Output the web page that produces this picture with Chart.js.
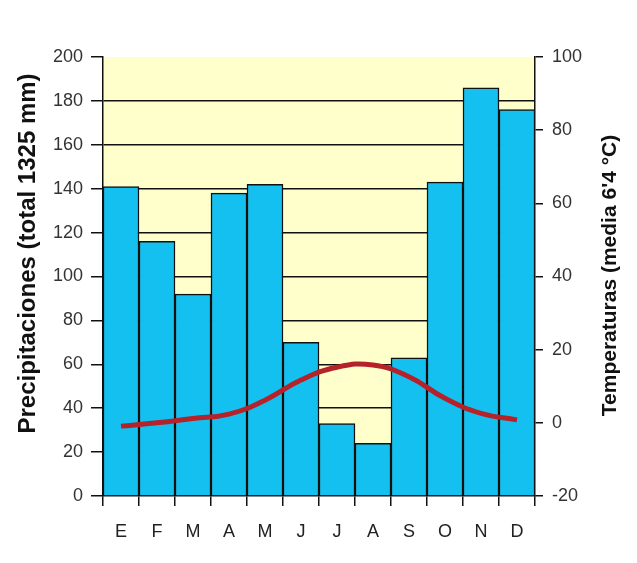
<!DOCTYPE html>
<html>
<head>
<meta charset="utf-8">
<script src="https://cdn.jsdelivr.net/npm/chart.js@4/dist/chart.umd.min.js"></script>
<style>
  html, body { margin: 0; padding: 0; background: #fff; }
  #wrap { width: 637px; height: 563px; position: relative; }
</style>
</head>
<body>
<div id="wrap"><canvas id="c"></canvas></div>
<script>
const months = ['E', 'F', 'M', 'A', 'M', 'J', 'J', 'A', 'S', 'O', 'N', 'D'];
const precipitaciones = [141, 116, 92, 138, 142, 70, 33, 24, 63, 143, 186, 176];
const temperaturas = [-0.9, 0, 1.2, 2.4, 6.2, 11.7, 15.2, 15.8, 12.6, 6.7, 2.6, 0.8];
const precipTicks = [0, 20, 40, 60, 80, 100, 120, 140, 160, 180, 200];
const tempTicks = [-20, 0, 20, 40, 60, 80, 100];
const leftTitle = 'Precipitaciones (total 1325 mm)';
const rightTitle = 'Temperaturas (media 6\'4 °C)';

const FONT = "'Liberation Sans', Arial, sans-serif";

const bgPlugin = {
  id: 'bg',
  beforeDraw(chart) {
    const { ctx, chartArea: a } = chart;
    ctx.save();
    ctx.fillStyle = '#ffffcc';
    ctx.fillRect(a.left, a.top, a.right - a.left, a.bottom - a.top);
    ctx.restore();
  },
  afterDraw(chart) {
    const { ctx, chartArea: a } = chart;
    ctx.save();
    ctx.fillStyle = '#111';
    ctx.textAlign = 'center';
    ctx.textBaseline = 'middle';
    ctx.font = 'bold 24px ' + FONT;
    ctx.translate(28, (a.top + a.bottom) / 2 - 23);
    ctx.rotate(-Math.PI / 2);
    ctx.fillText(leftTitle, 0, 0);
    ctx.restore();
    ctx.save();
    ctx.fillStyle = '#111';
    ctx.textAlign = 'center';
    ctx.textBaseline = 'middle';
    ctx.font = 'bold 21px ' + FONT;
    ctx.translate(610, (a.top + a.bottom) / 2 - 1);
    ctx.rotate(-Math.PI / 2);
    ctx.fillText(rightTitle, 0, 0);
    ctx.restore();
  }
};

new Chart(document.getElementById('c'), {
  data: {
    labels: months,
    datasets: [
      {
        type: 'line',
        data: temperaturas,
        yAxisID: 'y2',
        borderColor: '#b5222a',
        borderWidth: 5,
        pointRadius: 0,
        tension: 0.45,
        order: 0
      },
      {
        type: 'bar',
        data: precipitaciones,
        yAxisID: 'y',
        backgroundColor: '#14c0f0',
        borderColor: '#111',
        borderWidth: 1.5,
        barPercentage: 1,
        categoryPercentage: 1,
        order: 1
      }
    ]
  },
  options: {
    responsive: true,
    maintainAspectRatio: false,
    animation: false,
    layout: { padding: { top: 57, left: 0, right: 0, bottom: 0 } },
    plugins: { legend: { display: false }, tooltip: { enabled: false } },
    scales: {
      x: {
        offset: true,
        afterFit(s) { s.height = 67; },
        grid: { offset: true, drawOnChartArea: false, color: '#111', tickLength: 10, lineWidth: 1.5 },
        border: { color: '#111', width: 1.5 },
        ticks: { color: '#222', font: { family: FONT, size: 18 }, padding: 15, maxRotation: 0 }
      },
      y: {
        position: 'left',
        min: 0, max: 200,
        afterFit(s) { s.width = 103; },
        afterBuildTicks(s) { s.ticks = precipTicks.map(v => ({ value: v })); },
        grid: {
          color: ctx => (ctx.tick && (ctx.tick.value === 200 || ctx.tick.value === 0)) ? 'rgba(0,0,0,0)' : '#111',
          tickColor: '#111',
          lineWidth: 1.5,
          tickLength: 12
        },
        border: { color: '#111', width: 1.5 },
        ticks: { color: '#333', font: { family: FONT, size: 18 }, padding: 8 }
      },
      y2: {
        position: 'right',
        min: -20, max: 100,
        afterFit(s) { s.width = 102; },
        afterBuildTicks(s) { s.ticks = tempTicks.map(v => ({ value: v })); },
        grid: { drawOnChartArea: false, color: '#111', lineWidth: 1.5, tickLength: 8 },
        border: { color: '#111', width: 1.5 },
        ticks: { color: '#333', font: { family: FONT, size: 18 }, padding: 9 }
      }
    }
  },
  plugins: [bgPlugin]
});
</script>
</body>
</html>
